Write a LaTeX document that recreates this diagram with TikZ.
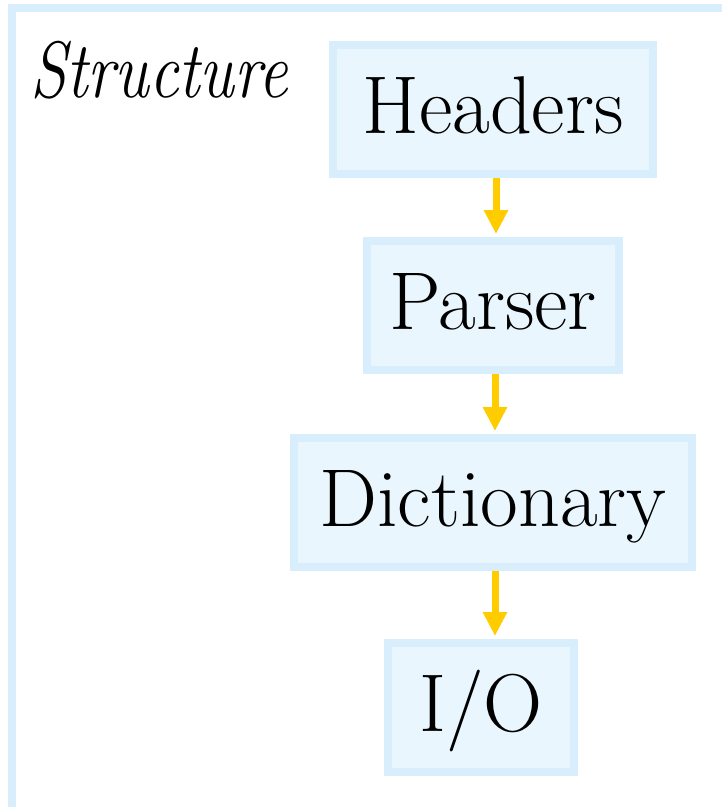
\documentclass[tikz,border=0pt]{standalone}
\usepackage{fontspec}
\usetikzlibrary{arrows.meta}
\definecolor{boxline}{HTML}{D9EEFC}
\definecolor{boxfill}{HTML}{EAF6FE}
\definecolor{arrowc}{HTML}{FFCC00}
\tikzset{
  blk/.style={draw=boxline, fill=boxfill, line width=8pt, minimum height=129pt, inner sep=0pt},
  lbl/.style={anchor=base, inner sep=0pt, font=\fontsize{82}{90}\selectfont},
  flow/.style={draw=arrowc, line width=7pt, -{Triangle[width=23pt,length=24pt]}, shorten >=3pt}
}
\begin{document}
\begin{tikzpicture}[x=1pt,y=-1pt]
\useasboundingbox (0,0) rectangle (722,807);
\begin{scope}
\clip (0,0) rectangle (722,807);
\draw[boxline, line width=8pt] (12,8) rectangle (726,811);
\end{scope}
\node[anchor=base west, inner sep=0pt, font=\fontsize{80}{90}\selectfont\itshape, xscale=0.82, transform shape] (title) at (30,97) {Structure};
\node[blk, minimum width=320pt] (hdr) at (493,109.5) {};
\node[blk, minimum width=252pt] (prs) at (493,305.5) {};
\node[blk, minimum width=398pt] (dic) at (493,502.5) {};
\node[blk, minimum width=186pt] (io) at (481,707.5) {};
\node[lbl] (thdr) at ([yshift=-24pt]hdr.center) {Headers};
\node[lbl] (tprs) at ([yshift=-24pt]prs.center) {Parser};
\node[lbl] (tdic) at ([yshift=-24pt]dic.center) {Dictionary};
\node[lbl] (tio) at ([yshift=-24pt]io.center) {I/O};
\draw[flow] ([xshift=3pt]hdr.south) -- ([xshift=3pt]hdr.south |- prs.north);
\draw[flow] ([xshift=2pt]prs.south) -- ([xshift=2pt]prs.south |- dic.north);
\draw[flow] ([xshift=2pt]dic.south) -- ([xshift=2pt]dic.south |- io.north);
\end{tikzpicture}
\end{document}
